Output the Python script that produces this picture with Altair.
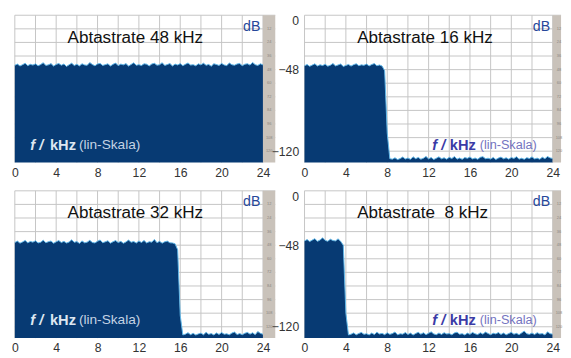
import altair as alt
import pandas as pd

STEP = 0.25  # kHz between spectrum samples (0 .. 24 kHz)

# spectrum level in dB, one value per 0.25 kHz
db48 = [
    -44.2, -43.1, -44.8, -43.6, -42.4, -44.5, -43.3, -44.0,
    -42.9, -44.6, -43.5, -41.9, -44.3, -43.8, -42.7, -44.9,
    -43.4, -42.6, -44.1, -43.0, -45.2, -43.7, -42.3, -44.4,
    -43.2, -44.7, -42.8, -43.9, -44.2, -41.8, -43.5, -44.6,
    -43.0, -42.5, -44.3, -43.6, -42.9, -44.8, -43.3, -42.2,
    -44.5, -43.1, -43.8, -42.7, -44.9, -43.4, -42.0, -44.2,
    -43.6, -44.4, -42.8, -43.2, -44.7, -43.0, -42.4, -44.1,
    -43.7, -41.9, -44.3, -43.5, -42.6, -44.8, -43.1, -43.9,
    -42.7, -44.5, -43.3, -42.1, -44.0, -43.6, -44.6, -42.9,
    -43.8, -42.3, -44.2, -43.4, -45.0, -42.8, -43.5, -44.3,
    -42.5, -43.9, -44.4, -42.2, -43.7, -44.1, -43.0, -42.6,
    -44.5, -43.2, -42.8, -44.0, -41.7, -43.6, -44.3, -42.9,
    -43.8,
]
db16 = [
    -44.6, -43.5, -45.1, -44.0, -42.9, -44.8, -43.7, -44.4,
    -43.2, -45.0, -44.1, -42.6, -44.7, -43.9, -43.0, -45.2,
    -44.3, -43.4, -44.9, -43.6, -42.8, -44.5, -43.8, -44.2,
    -43.1, -44.7, -43.5, -42.7, -44.6, -43.9, -44.8, -49.0,
    -104.0, -126.6, -127.0, -125.8, -127.4, -126.5, -125.1, -126.9,
    -126.0, -127.2, -124.9, -126.6, -125.5, -127.1, -126.2, -124.6,
    -126.8, -125.6, -127.3, -126.2, -125.0, -126.7, -125.8, -127.0,
    -125.4, -126.5, -124.7, -127.0, -126.0, -127.2, -125.6, -126.3,
    -125.1, -126.8, -126.0, -127.1, -125.4, -124.8, -126.6, -126.2,
    -126.9, -125.5, -127.3, -126.1, -125.2, -126.7, -125.8, -127.0,
    -125.6, -126.4, -124.9, -127.0, -126.2, -127.2, -125.7, -126.5,
    -125.0, -126.8, -126.1, -127.1, -125.3, -126.6, -124.7, -125.9,
    -126.4,
]
db32 = [
    -45.6, -44.4, -46.2, -45.1, -43.8, -45.9, -44.7, -45.3,
    -44.1, -46.0, -45.4, -43.6, -45.8, -44.9, -44.3, -46.3,
    -45.0, -43.9, -45.7, -44.6, -46.1, -45.2, -43.2, -45.5,
    -44.8, -46.4, -44.2, -45.9, -45.3, -43.7, -45.6, -46.0,
    -44.5, -43.4, -45.8, -45.0, -44.1, -46.2, -44.9, -43.9,
    -45.7, -44.6, -46.3, -45.1, -43.5, -45.4, -44.7, -46.1,
    -44.3, -45.6, -43.8, -46.0, -44.9, -45.3, -42.9, -45.8,
    -44.6, -46.2, -45.0, -44.4, -45.9, -46.0, -46.8, -52.0,
    -110.0, -127.2, -126.5, -125.2, -127.0, -125.8, -127.3, -126.3,
    -125.6, -127.1, -124.9, -126.7, -126.0, -127.2, -125.4, -126.8,
    -125.1, -126.6, -126.2, -127.1, -125.5, -124.7, -126.9, -126.0,
    -127.0, -125.7, -125.0, -126.5, -125.3, -127.0, -124.2, -125.8,
    -126.6,
]
db8 = [
    -44.3, -43.0, -44.8, -43.5, -42.2, -44.6, -43.4, -41.5,
    -43.8, -44.5, -42.7, -43.9, -44.2, -42.4, -44.7, -48.0,
    -108.0, -127.2, -126.6, -125.4, -127.1, -125.9, -125.0, -126.7,
    -126.1, -127.2, -125.5, -126.9, -124.8, -126.4, -125.8, -127.0,
    -125.3, -126.7, -126.0, -124.6, -127.1, -126.2, -126.5, -125.1,
    -126.8, -125.6, -127.3, -125.9, -124.9, -126.6, -125.3, -127.0,
    -125.7, -124.5, -126.3, -127.0, -125.5, -126.8, -125.2, -126.4,
    -126.0, -127.1, -125.4, -124.8, -126.6, -126.1, -127.2, -125.6,
    -126.7, -125.0, -126.2, -126.9, -125.3, -126.5, -124.7, -125.9,
    -127.0, -125.7, -126.3, -125.1, -126.8, -125.5, -127.1, -126.0,
    -124.9, -126.6, -125.8, -127.0, -125.4, -123.8, -126.2, -126.7,
    -125.5, -126.9, -125.2, -126.4, -126.0, -127.2, -124.5, -126.1,
    -126.5,
]

titles = ["Abtastrate 48 kHz", "Abtastrate 16 kHz", "Abtastrate 32 kHz", "Abtastrate \u00a08 kHz"]

x_grid = [0, 2, 4, 6, 8, 10, 12, 14, 16, 18, 20, 22, 24]
x_labels = [0, 4, 8, 12, 16, 20, 24]
y_grid = [0, -12, -24, -36, -48, -60, -72, -84, -96, -108, -120]
y_labels_shown = [0, -48, -120]
strip_labels = ["12", "24", "36", "48", "60", "72", "84", "96", "108", "120"]
strip_vals = [-12, -24, -36, -48, -60, -72, -84, -96, -108, -120]

Y_MIN = -130
FONT = "Liberation Sans, Arial, sans-serif"
NAVY = "#073a73"
CYAN = "#62b8e8"
GRID = "#c4c4c4"
STRIP = "#c9c2ba"

one = pd.DataFrame({"k": [0]})


def panel(vals, title, left):
    xmax = 25.19 if left else 24.81
    width = 267 if left else 263
    df = pd.DataFrame({"f": [i * STEP for i in range(len(vals))], "db": vals})
    xs = alt.Scale(domain=[0, xmax], nice=False, zero=False)
    ys = alt.Scale(domain=[Y_MIN, 0], nice=False, zero=False)
    xaxis = alt.Axis(values=x_labels, grid=False, ticks=False, domain=False, labelFlush=False,
                     labelOverlap=False, labelPadding=4, labelFontSize=12.5, labelColor="#333",
                     labelFont=FONT, title=None)
    if left:
        yaxis = None
    else:
        yaxis = alt.Axis(values=y_labels_shown, grid=False, ticks=False, domain=False, title=None,
                         labelFlush=True, labelOverlap=False, labelPadding=6, labelFontSize=12.5,
                         labelColor="#333", labelFont=FONT)
    vgrid = alt.Chart(pd.DataFrame({"g": x_grid})).mark_rule(color=GRID, strokeWidth=1).encode(
        x=alt.X("g:Q", scale=xs, axis=xaxis))
    hgrid = alt.Chart(pd.DataFrame({"g": y_grid})).mark_rule(color=GRID, strokeWidth=1).encode(
        y=alt.Y("g:Q", scale=ys, axis=yaxis))
    base = alt.Chart(df)
    area = base.mark_area(color=NAVY, opacity=1).encode(
        x="f:Q", y="db:Q", y2=alt.datum(Y_MIN))
    line = base.mark_line(color=CYAN, strokeWidth=1).encode(x="f:Q", y="db:Q")
    c = alt.Chart(one)
    strip = c.mark_rect(color=STRIP).encode(
        x=alt.datum(24), x2=alt.datum(xmax), y=alt.datum(0), y2=alt.datum(Y_MIN))
    sdf = pd.DataFrame({"v": strip_vals, "t": strip_labels})
    stext = alt.Chart(sdf).mark_text(fontSize=4, color="#8a8580", font=FONT).encode(
        x=alt.datum(24.6), y="v:Q", text="t:N")
    ttl = c.mark_text(align="left", baseline="middle", fontSize=17.5, font=FONT, color="#111",
                      text=title).encode(x=alt.datum(5.1), y=alt.datum(-19.8))
    db = c.mark_text(align="right", baseline="middle", fontSize=14.5, font=FONT, color="#26479a",
                     text="dB").encode(x=alt.datum(23.75), y=alt.datum(-10.3))
    if left:
        c1, c2, fx = "#dde7f1", "#c4d3e4", [1.5, 3.4, 6.2]
        fs2 = 14
    else:
        c1, c2, fx = "#3b3ba6", "#7474bf", [12.36, 14.05, 16.95]
        fs2 = 13
    f1 = c.mark_text(align="left", baseline="middle", fontSize=15, font=FONT, fontWeight="bold",
                     fontStyle="italic", color=c1, text="f /").encode(x=alt.datum(fx[0]), y=alt.datum(-114.5))
    f2 = c.mark_text(align="left", baseline="middle", fontSize=15, font=FONT, fontWeight="bold",
                     color=c1, text="kHz").encode(x=alt.datum(fx[1]), y=alt.datum(-114.5))
    f3 = c.mark_text(align="left", baseline="middle", fontSize=fs2, font=FONT,
                     color=c2, text="(lin-Skala)").encode(x=alt.datum(fx[2]), y=alt.datum(-114.5))
    return alt.layer(vgrid, hgrid, area, line, strip, stext, ttl, db, f1, f2, f3).properties(
        width=width, height=151)


chart = alt.concat(
    panel(db48, titles[0], True),
    panel(db16, titles[1], False),
    panel(db32, titles[2], True),
    panel(db8, titles[3], False),
    columns=2,
    spacing={"row": 29, "column": 30},
    bounds="flush",
).properties(
    padding={"left": 3, "top": 2, "right": 0, "bottom": 0},
    background="white",
).configure_view(stroke=None)

chart.save("out.html", embed_options={"renderer": "svg", "actions": False})
